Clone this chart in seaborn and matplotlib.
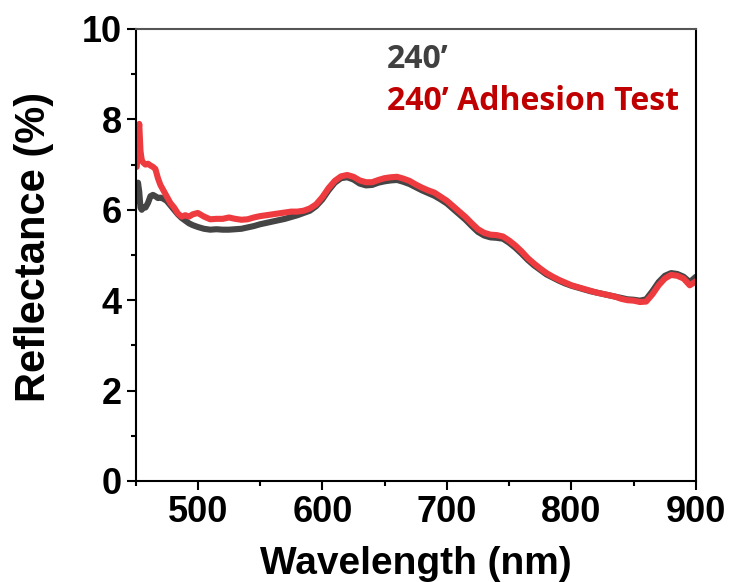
import numpy as np
import pandas as pd
import seaborn as sns
import matplotlib
matplotlib.use("Agg")
import matplotlib.pyplot as plt
from matplotlib.ticker import MultipleLocator

wavelength = [451, 452, 453, 454, 455, 456, 458, 460, 462, 464, 466, 468, 470, 472,
              475, 478, 481, 484, 487, 490, 493, 496,
              500, 505, 510, 515, 520, 525, 530, 535, 540, 545, 550, 555, 560, 565,
              570, 575, 580, 585, 590, 595, 600, 605, 610, 615, 620, 625, 630, 635,
              640, 645, 650, 655, 660, 665, 670, 675, 680, 685, 690, 695, 700, 705,
              710, 715, 720, 725, 730, 735, 740, 745, 750, 755, 760, 765, 770, 775,
              780, 785, 790, 795, 800, 805, 810, 815, 820, 825, 830, 835, 840, 845,
              850, 855, 860, 865, 870, 875, 880, 885, 890, 895, 900]

refl_240 = [6.2, 6.6, 6.4, 6.05, 6.0, 6.05, 6.05, 6.15, 6.3, 6.33, 6.3, 6.26, 6.27, 6.25,
            6.2, 6.1, 6.0, 5.9, 5.82, 5.76, 5.7, 5.66,
            5.62, 5.58, 5.56, 5.57, 5.56, 5.56, 5.57, 5.58, 5.61, 5.64, 5.68, 5.71, 5.74, 5.77,
            5.8, 5.84, 5.88, 5.93, 5.98, 6.08, 6.23, 6.43, 6.6, 6.7, 6.72, 6.67, 6.58, 6.54,
            6.55, 6.6, 6.63, 6.65, 6.66, 6.62, 6.57, 6.5, 6.43, 6.37, 6.31, 6.23, 6.14, 6.02,
            5.9, 5.78, 5.64, 5.51, 5.43, 5.39, 5.38, 5.36, 5.27, 5.16, 5.03, 4.89, 4.77, 4.67,
            4.57, 4.5, 4.43, 4.37, 4.32, 4.28, 4.24, 4.2, 4.17, 4.14, 4.11, 4.08, 4.05, 4.02,
            4.01, 3.99, 4.02, 4.2, 4.4, 4.54, 4.6, 4.58, 4.52, 4.4, 4.52]

refl_adhesion = [6.95, 7.6, 7.9, 7.3, 7.1, 7.05, 7.0, 7.02, 6.98, 6.95, 6.9, 6.7, 6.55, 6.45,
                 6.3, 6.15, 6.05, 5.92, 5.85, 5.88, 5.85, 5.9,
                 5.93, 5.85, 5.79, 5.8, 5.8, 5.83, 5.8, 5.78, 5.79, 5.83, 5.86, 5.88, 5.9, 5.92,
                 5.94, 5.96, 5.96, 5.98, 6.03, 6.12, 6.28, 6.48, 6.64, 6.74, 6.77, 6.73, 6.65, 6.61,
                 6.61, 6.66, 6.7, 6.72, 6.73, 6.69, 6.64, 6.56, 6.49, 6.43, 6.38, 6.29, 6.2, 6.08,
                 5.96, 5.84, 5.7, 5.57, 5.49, 5.45, 5.44, 5.41, 5.32, 5.21, 5.08, 4.93, 4.81, 4.7,
                 4.6, 4.52, 4.45, 4.39, 4.33, 4.29, 4.25, 4.21, 4.17, 4.14, 4.11, 4.08, 4.03, 4.0,
                 3.99, 3.96, 3.97, 4.13, 4.33, 4.48, 4.56, 4.54, 4.48, 4.33, 4.42]

labels = ["240\u2019", "240\u2019 Adhesion Test"]
line_colors = ["#454545", "#EE3B40"]
text_colors = ["#404040", "#C00000"]

df = pd.DataFrame({"wl": wavelength, "a": refl_240, "b": refl_adhesion})

sns.set_style("ticks")
plt.rcParams["font.family"] = ["Liberation Sans", "DejaVu Sans"]
plt.rcParams.update({"text.color": "black", "axes.labelcolor": "black",
                     "xtick.color": "black", "ytick.color": "black"})

fig = plt.figure(figsize=(7.3, 5.82), dpi=100)
ax = fig.add_axes([135.5 / 730, 101 / 582, 560.5 / 730, 452 / 582])

sns.lineplot(data=df, x="wl", y="a", color=line_colors[0], lw=4.4, ax=ax)
sns.lineplot(data=df, x="wl", y="b", color=line_colors[1], lw=4.4, ax=ax)

ax.set_xlim(450, 900)
ax.set_ylim(0, 10)
ax.xaxis.set_major_locator(MultipleLocator(100))
ax.xaxis.set_minor_locator(MultipleLocator(50))
ax.yaxis.set_major_locator(MultipleLocator(2))
ax.yaxis.set_minor_locator(MultipleLocator(1))
ax.tick_params(which="major", length=6.5, width=1.5, labelsize=26, direction="out")
ax.tick_params(which="minor", length=3.5, width=1.5, direction="out")
for lab in ax.get_xticklabels() + ax.get_yticklabels():
    lab.set_fontweight("bold")
for s in ax.spines.values():
    s.set_linewidth(1.5)
    s.set_color("black")
ax.spines["top"].set_color("#555555")

ax.set_xlabel("Wavelength (nm)", fontsize=28, fontweight="bold")
ax.set_ylabel("Reflectance (%)", fontsize=30, fontweight="bold")
ax.xaxis.set_label_coords(0.5, -0.143)
ax.yaxis.set_label_coords(-0.145, 0.518)

ax.text(652, 9.14, labels[0], color=text_colors[0], fontsize=23, fontweight="bold",
        family=["Open Sans", "DejaVu Sans"], va="baseline")
ax.text(652, 8.21, labels[1], color=text_colors[1], fontsize=23, fontweight="bold",
        family=["Open Sans", "DejaVu Sans"], va="baseline")

fig.savefig("out.png", dpi=100)
